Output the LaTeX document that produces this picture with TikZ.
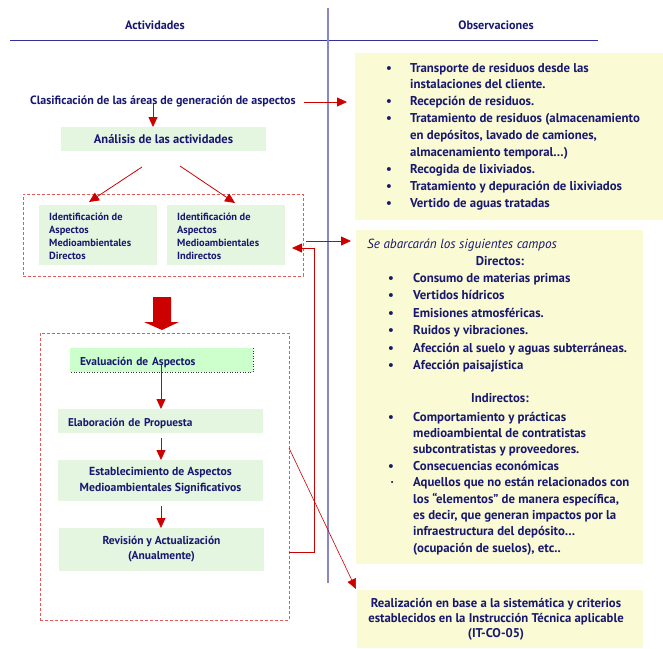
\documentclass[tikz,border=0pt]{standalone}
\usepackage{fontspec}
\setmainfont{PT Sans}
\usetikzlibrary{arrows.meta}
\definecolor{navy}{RGB}{24,24,112}
\definecolor{hblue}{RGB}{50,50,150}
\definecolor{vblue}{RGB}{135,135,200}
\definecolor{arrred}{RGB}{205,0,0}
\definecolor{dashred}{RGB}{225,90,90}
\definecolor{boxgreen}{RGB}{228,245,224}
\definecolor{evalgreen}{RGB}{204,255,204}
\definecolor{boxyellow}{RGB}{250,250,212}
\tikzset{
  txt/.style={text=navy, inner sep=0pt, font=\bfseries},
  gbox/.style={fill=boxgreen, inner sep=0pt, outer sep=0pt, text=navy},
  ybox/.style={fill=boxyellow, inner sep=0pt, outer sep=0pt},
  arr/.style={draw=arrred, line width=0.8pt, -{Triangle[length=10pt,width=9pt]}},
  redline/.style={draw=arrred, line width=0.8pt},
  dbox/.style={draw=dashred, line width=0.9pt, dash pattern=on 3pt off 2pt, inner sep=0pt, outer sep=0pt},
}
\begin{document}
\begin{tikzpicture}[x=1pt,y=-1pt]
\useasboundingbox (0,0) rectangle (663,648);
% header
\node[txt, font=\bfseries\fontsize{12.2}{14}\selectfont, anchor=mid] (hact) at (155,27) {Actividades};
\node[txt, font=\bfseries\fontsize{12.2}{14}\selectfont, anchor=mid] (hobs) at (496,27) {Observaciones};
\draw[hblue, line width=0.9pt] (10,40) coordinate (hl1) -- (598,40) coordinate (hl2);
\draw[vblue, line width=1.2pt] (328,8) coordinate (vl1) -- (328,583) coordinate (vl2);

% yellow boxes
\node[ybox, minimum width=308pt, minimum height=167pt] (yb1) at (509,136.5) {};
\node[ybox, minimum width=287pt, minimum height=334pt] (yb2) at (499.5,397) {};
\node[ybox, minimum width=286pt, minimum height=58pt] (yb3) at (500,619) {};

% left column
\node[txt, font=\bfseries\fontsize{12}{14}\selectfont, anchor=mid west] (clas) at (30,102) {Clasificación de las áreas de generación de aspectos};
\node[gbox, minimum width=205pt, minimum height=24pt, text height=11pt, text depth=2pt, font=\bfseries\fontsize{12.5}{14}\selectfont] (ana) at (163.5,139) {Análisis de las actividades};

\node[dbox, minimum width=280pt, minimum height=82pt] (grp1) at (163,235) {};
\node[gbox, minimum width=118pt, minimum height=60pt] (idd) at (98,235) {};
\node[gbox, minimum width=118pt, minimum height=60pt] (idi) at (226,235) {};
\node[txt, anchor=base west] (iddt) at (49,220.5) {\fontsize{10.4}{13}\selectfont\begin{tabular}[t]{@{}l@{}}Identificación de\\Aspectos\\Medioambientales\\Directos\end{tabular}};
\node[txt, anchor=base west] (idit) at (177,220.5) {\fontsize{10.4}{13}\selectfont\begin{tabular}[t]{@{}l@{}}Identificación de\\Aspectos\\Medioambientales\\Indirectos\end{tabular}};

% big arrow
\fill[arrred] (153,297) -- (171,297) -- (171,322) -- (179,322) -- (162,330) -- (144,322) -- (153,322) -- cycle;

\node[dbox, minimum width=249pt, minimum height=287pt] (grp2) at (164.5,476.5) {};
\node[fill=evalgreen, inner sep=0pt, outer sep=0pt, minimum width=183pt, minimum height=24pt, text width=163pt, inner xsep=10pt, align=left, text height=12pt, text depth=2pt, text=navy, font=\bfseries\fontsize{11.4}{13}\selectfont] (eva) at (161.5,360) {Evaluación de Aspectos};
\draw[black!80, dotted, line width=0.6pt] (eva.north east) -- (eva.south east) -- (eva.south west);
\node[gbox, minimum width=205pt, minimum height=24pt, text width=185pt, inner xsep=10pt, align=left, text height=12pt, text depth=2pt, font=\bfseries\fontsize{11.3}{13}\selectfont] (ela) at (160.5,421) {Elaboración de Propuesta};
\node[gbox, minimum width=205pt, minimum height=41pt, align=center, font=\bfseries\fontsize{11.7}{16}\selectfont] (est) at (160.5,480.5) {Establecimiento de Aspectos\\Medioambientales Significativos};
\node[gbox, minimum width=205pt, minimum height=43pt, align=center, font=\bfseries\fontsize{11.5}{15}\selectfont] (rev) at (161.5,549.5) {Revisión y Actualización\\(Anualmente)};

% arrows left
\draw[arr] (153,104) coordinate (a1) -- (153,0 |- ana.north);
\draw[arr] (142,167) coordinate (a2) -- (89,202) coordinate (a2e);
\draw[arr] (180,166) coordinate (a3) -- (235,203) coordinate (a3e);
\draw[arr] (161,365) coordinate (a4) -- (161,0 |- ela.north);
\draw[arr] (161,438) coordinate (a5) -- (161,0 |- est.north);
\draw[arr] (161,506) coordinate (a6) -- (161,0 |- rev.north);

% cross arrows
\draw[arr] (304,102) coordinate (b1) -- (347,102) coordinate (b1e);
\draw[arr] (306,241) coordinate (b2) -- (351,241) coordinate (b2e);
\draw[arr] (grp2.east |- 0,552) -- (314,552) -- (314,248) -- (292,248) coordinate (fbe);
\draw[arr, line width=0.6pt] (grp2.east |- 0,448) -- (356,589) coordinate (b3e);

% right texts
\node[txt, anchor=base west] (obs1) at (386,72) {\fontsize{12.8}{16.9}\selectfont\begin{tabular}[t]{@{}p{24pt}@{}l@{}}
\textbullet & Transporte de residuos desde las\\
 & instalaciones del cliente.\\
\textbullet & Recepción de residuos.\\
\textbullet & Tratamiento de residuos (almacenamiento\\
 & en depósitos, lavado de camiones,\\
 & almacenamiento temporal…)\\
\textbullet & Recogida de lixiviados.\\
\textbullet & Tratamiento y depuración de lixiviados\\
\textbullet & Vertido de aguas tratadas
\end{tabular}};

\node[txt, font=\itshape\fontsize{13.2}{15}\selectfont, anchor=base west] (se) at (367,248) {Se abarcarán los siguientes campos};
\node[txt, font=\bfseries\fontsize{12.8}{15}\selectfont, anchor=base] (dir) at (500,265.5) {Directos:};
\node[txt, anchor=base west] (obs2) at (388,282) {\fontsize{12.8}{17.5}\selectfont\begin{tabular}[t]{@{}p{25pt}@{}l@{}}
\textbullet & Consumo de materias primas\\
\textbullet & Vertidos hídricos\\
\textbullet & Emisiones atmosféricas.\\
\textbullet & Ruidos y vibraciones.\\
\textbullet & Afección al suelo y aguas subterráneas.\\
\textbullet & Afección paisajística
\end{tabular}};
\node[txt, font=\bfseries\fontsize{12.8}{15}\selectfont, anchor=base] (ind) at (500,402) {Indirectos:};
\node[txt, anchor=base west] (obs3) at (388,421) {\fontsize{12.8}{16.4}\selectfont\begin{tabular}[t]{@{}p{25pt}@{}l@{}}
\textbullet & Comportamiento y prácticas\\
 & medioambiental de contratistas\\
 & subcontratistas y proveedores.\\
\textbullet & Consecuencias económicas\\
\hspace{2.5pt}\textperiodcentered & Aquellos que no están relacionados con\\
 & los “elementos” de manera específica,\\
 & es decir, que generan impactos por la\\
 & infraestructura del depósito…\\
 & (ocupación de suelos), etc..
\end{tabular}};
\node[txt, anchor=base] (real) at (496,607.5) {\fontsize{12.7}{15}\selectfont\begin{tabular}[t]{@{}c@{}}
Realización en base a la sistemática y criterios\\
establecidos en la Instrucción Técnica aplicable\\
(IT-CO-05)
\end{tabular}};
\end{tikzpicture}
\end{document}
